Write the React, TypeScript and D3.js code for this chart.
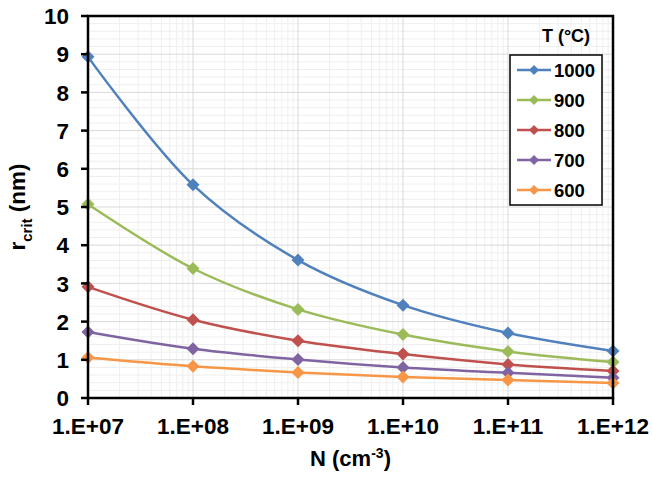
import React from "react";
import * as d3 from "d3";

// Critical radius vs. concentration for several temperatures
const concentrations = [1e7, 1e8, 1e9, 1e10, 1e11, 1e12];
const xTickLabels = ["1.E+07", "1.E+08", "1.E+09", "1.E+10", "1.E+11", "1.E+12"];
const yTicks = [0, 1, 2, 3, 4, 5, 6, 7, 8, 9, 10];
const seriesNames = ["1000", "900", "800", "700", "600"];
const seriesColors = ["#4F81BD", "#9BBB59", "#C0504D", "#8064A2", "#F79646"];

const r1000 = [8.93, 5.58, 3.61, 2.43, 1.7, 1.23];
const r900 = [5.07, 3.39, 2.32, 1.66, 1.22, 0.94];
const r800 = [2.91, 2.05, 1.5, 1.15, 0.88, 0.71];
const r700 = [1.73, 1.29, 1.01, 0.8, 0.66, 0.53];
const r600 = [1.06, 0.83, 0.67, 0.55, 0.47, 0.39];
const seriesValues = [r1000, r900, r800, r700, r600];

const W = 652;
const H = 477;
const L = 88;
const R = 613;
const T = 16;
const B = 398;

const FONT = "'Liberation Sans', Arial, sans-serif";

function diamond(cx: number, cy: number, r: number) {
  return `M${cx},${cy - r}L${cx + r},${cy}L${cx},${cy + r}L${cx - r},${cy}Z`;
}

export default function App() {
  const x = d3.scaleLog().domain([1e7, 1e12]).range([L, R]);
  const y = d3.scaleLinear().domain([0, 10]).range([B, T]);

  // minor log grid (2..9 within each decade)
  const minorX: number[] = [];
  for (let e = 7; e < 12; e++) {
    for (let k = 2; k <= 9; k++) minorX.push(k * Math.pow(10, e));
  }
  const minorY = d3.range(0, 10.001, 0.2).filter((v) => Math.abs(v - Math.round(v)) > 1e-6);

  const line = d3
    .line<number>()
    .x((_, i) => x(concentrations[i]))
    .y((d) => y(d))
    .curve(d3.curveCatmullRom.alpha(0.5));

  return (
    <div style={{ position: "fixed", left: 0, top: 0 }}>
      <svg width={W} height={H} style={{ display: "block", background: "#fff" }}>
        {/* grid */}
        <g>
          {minorX.map((v, i) => (
            <line key={"mx" + i} x1={x(v)} x2={x(v)} y1={T} y2={B} stroke="#EFEFEF" strokeWidth={1} />
          ))}
          {minorY.map((v, i) => (
            <line key={"my" + i} x1={L} x2={R} y1={y(v)} y2={y(v)} stroke="#EFEFEF" strokeWidth={1} />
          ))}
          {concentrations.map((v, i) => (
            <line key={"gx" + i} x1={x(v)} x2={x(v)} y1={T} y2={B} stroke="#D9D9D9" strokeWidth={1} />
          ))}
          {yTicks.map((v, i) => (
            <line key={"gy" + i} x1={L} x2={R} y1={y(v)} y2={y(v)} stroke="#D9D9D9" strokeWidth={1} />
          ))}
        </g>

        {/* series */}
        {seriesValues.map((vals, si) => (
          <g key={"s" + si}>
            <path d={line(vals) || ""} fill="none" stroke={seriesColors[si]} strokeWidth={2.5} />
            {vals.map((v, i) => (
              <path key={i} d={diamond(x(concentrations[i]), y(v), 6.5)} fill={seriesColors[si]} />
            ))}
          </g>
        ))}

        {/* frame and axes */}
        <rect x={L} y={T} width={R - L} height={B - T} fill="none" stroke="#000" strokeWidth={2.5} />
        {yTicks.map((v, i) => (
          <line key={"ty" + i} x1={L - 7} x2={L} y1={y(v)} y2={y(v)} stroke="#000" strokeWidth={2.5} />
        ))}
        {concentrations.map((v, i) => (
          <line key={"tx" + i} x1={x(v)} x2={x(v)} y1={B} y2={B + 7} stroke="#000" strokeWidth={2.5} />
        ))}

        {/* tick labels */}
        {yTicks.map((v, i) => (
          <text
            key={"ly" + i}
            x={69}
            y={y(v)}
            dy="0.36em"
            textAnchor="end"
            fontFamily={FONT}
            fontWeight="bold"
            fontSize={22.5}
          >
            {v}
          </text>
        ))}
        {concentrations.map((v, i) => (
          <text
            key={"lx" + i}
            x={x(v)}
            y={B + 28}
            dy="0.36em"
            textAnchor="middle"
            fontFamily={FONT}
            fontWeight="bold"
            fontSize={22.5}
          >
            {xTickLabels[i]}
          </text>
        ))}

        {/* axis titles */}
        <text
          x={(L + R) / 2}
          y={466}
          textAnchor="middle"
          fontFamily={FONT}
          fontWeight="bold"
          fontSize={22}
        >
          N (cm
          <tspan dy={-8} fontSize={14}>
            -3
          </tspan>
          <tspan dy={8}>)</tspan>
        </text>
        <text
          transform={`translate(25,${(T + B) / 2}) rotate(-90)`}
          textAnchor="middle"
          fontFamily={FONT}
          fontWeight="bold"
          fontSize={22.5}
        >
          r
          <tspan dy={7} fontSize={15}>
            crit
          </tspan>
          <tspan dy={-7}> (nm)</tspan>
        </text>

        {/* legend */}
        <text x={566} y={42} textAnchor="middle" fontFamily={FONT} fontWeight="bold" fontSize={18}>
          T (°C)
        </text>
        <rect x={510} y={55} width={92} height={150} fill="#fff" stroke="#000" strokeWidth={1.5} />
        {seriesNames.map((name, i) => {
          const cy = 70 + i * 30;
          return (
            <g key={"lg" + i}>
              <line x1={517} x2={551} y1={cy} y2={cy} stroke={seriesColors[i]} strokeWidth={2.5} />
              <path d={diamond(534, cy, 5)} fill={seriesColors[i]} />
              <text x={554} y={cy} dy="0.36em" fontFamily={FONT} fontWeight="bold" fontSize={18.5}>
                {name}
              </text>
            </g>
          );
        })}
      </svg>
    </div>
  );
}
